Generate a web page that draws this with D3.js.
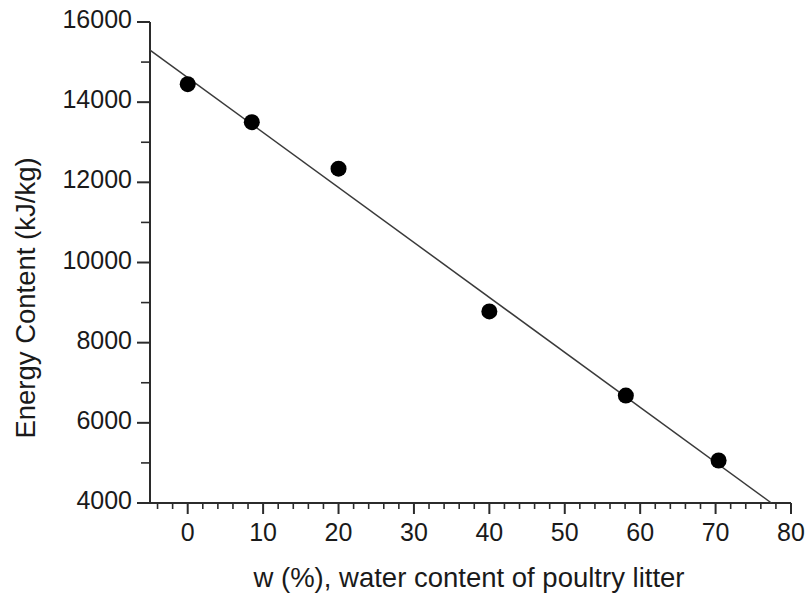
<!DOCTYPE html>
<html>
<head>
<meta charset="utf-8">
<script src="https://cdn.jsdelivr.net/npm/d3@7"></script>
<style>
  html, body { margin: 0; padding: 0; background: #fff; }
  svg { display: block; }
  text { font-family: "Liberation Sans", Arial, Helvetica, sans-serif; fill: #1a1a1a; }
</style>
</head>
<body>
<svg id="chart" width="811" height="594"></svg>
<script>
// ---- data ----
const waterContent = [0, 8.5, 20, 40, 58.1, 70.4];            // w (%)
const energyContent = [14450, 13500, 12340, 8780, 6680, 5060]; // kJ/kg
const fitW = [-5, 77.4];                                       // fitted line end points (w)
const fitE = [15300, 4000];                                    // fitted line end points (kJ/kg)
const xTicks = [0, 10, 20, 30, 40, 50, 60, 70, 80];
const yTicks = [4000, 6000, 8000, 10000, 12000, 14000, 16000];
const xDomain = [-5, 80];
const yDomain = [4000, 16000];
const xTitle = "w (%), water content of poultry litter";
const yTitle = "Energy Content (kJ/kg)";

// ---- layout ----
const svg = d3.select("#chart");
const mLeft = 150, mRight = 791, mTop = 22, mBottom = 503;
const x = d3.scaleLinear().domain(xDomain).range([mLeft, mRight]);
const y = d3.scaleLinear().domain(yDomain).range([mBottom, mTop]);
const axisColor = "#2b2b2b";

// minor ticks
const xMinor = d3.range(-4, 80, 2).filter(v => v % 10 !== 0);
const yMinor = d3.range(5000, 16000, 2000);

// x axis
const gx = svg.append("g").attr("transform", `translate(0,${mBottom})`);
gx.append("line").attr("x1", mLeft).attr("x2", mRight).attr("y1", 0).attr("y2", 0)
  .attr("stroke", axisColor).attr("stroke-width", 2);
gx.selectAll("line.minor").data(xMinor).enter().append("line").attr("class", "minor")
  .attr("x1", d => x(d)).attr("x2", d => x(d)).attr("y1", 0).attr("y2", 6)
  .attr("stroke", axisColor).attr("stroke-width", 1.6);
gx.selectAll("line.major").data(xTicks).enter().append("line").attr("class", "major")
  .attr("x1", d => x(d)).attr("x2", d => x(d)).attr("y1", 0).attr("y2", 11)
  .attr("stroke", axisColor).attr("stroke-width", 2);
gx.selectAll("text").data(xTicks).enter().append("text")
  .attr("x", d => x(d)).attr("y", 38).attr("text-anchor", "middle")
  .attr("font-size", 25).text(d => d);

// y axis
const gy = svg.append("g").attr("transform", `translate(${mLeft},0)`);
gy.append("line").attr("x1", 0).attr("x2", 0).attr("y1", mTop).attr("y2", mBottom)
  .attr("stroke", axisColor).attr("stroke-width", 2);
gy.selectAll("line.minor").data(yMinor).enter().append("line").attr("class", "minor")
  .attr("x1", 0).attr("x2", -9).attr("y1", d => y(d)).attr("y2", d => y(d))
  .attr("stroke", axisColor).attr("stroke-width", 1.6);
gy.selectAll("line.major").data(yTicks).enter().append("line").attr("class", "major")
  .attr("x1", 0).attr("x2", -13).attr("y1", d => y(d)).attr("y2", d => y(d))
  .attr("stroke", axisColor).attr("stroke-width", 2);
gy.selectAll("text").data(yTicks).enter().append("text")
  .attr("x", -18).attr("y", d => y(d) + 6).attr("text-anchor", "end")
  .attr("font-size", 25).text(d => d);

// fitted line
const lineData = fitW.map((w, i) => ({ w, e: fitE[i] }));
svg.append("path").datum(lineData)
  .attr("d", d3.line().x(d => x(d.w)).y(d => y(d.e)))
  .attr("fill", "none").attr("stroke", "#3a3a3a").attr("stroke-width", 1.5);

// points
const pts = waterContent.map((w, i) => ({ w, e: energyContent[i] }));
svg.selectAll("circle").data(pts).enter().append("circle")
  .attr("cx", d => x(d.w)).attr("cy", d => y(d.e)).attr("r", 8)
  .attr("fill", "#000");

// titles
svg.append("text").attr("x", 469).attr("y", 587).attr("text-anchor", "middle")
  .attr("font-size", 27.5).text(xTitle);
svg.append("text").attr("transform", "translate(35,298) rotate(-90)")
  .attr("text-anchor", "middle").attr("font-size", 27.5).text(yTitle);
</script>
</body>
</html>
